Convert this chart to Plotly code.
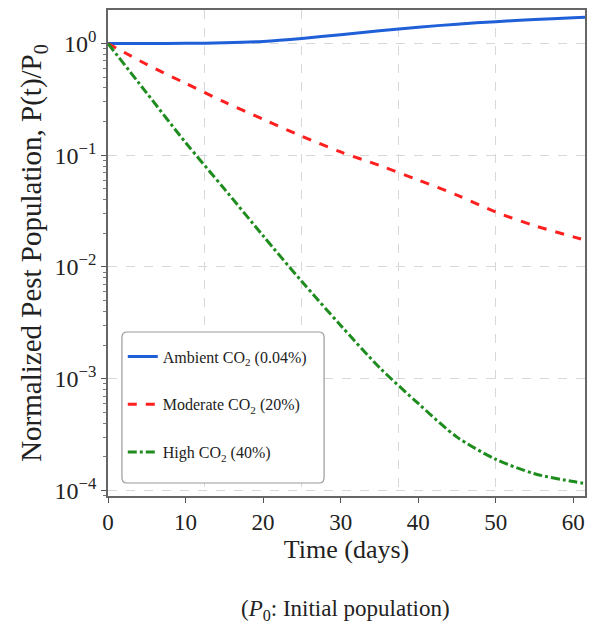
import plotly.graph_objects as go

days = [0, 5, 10, 15, 20, 25, 30, 35, 40, 45, 50, 55, 60, 62]
ambient = [1.0, 1.0, 1.003, 1.015, 1.045, 1.11, 1.2, 1.3, 1.4, 1.49, 1.57, 1.64, 1.70, 1.72]
moderate = [1.0, 0.65, 0.44, 0.30, 0.21, 0.148, 0.107, 0.081, 0.060, 0.044, 0.031, 0.0234, 0.0186, 0.0170]
high = [1.0, 0.36, 0.13, 0.050, 0.019, 0.0074, 0.0030, 0.00126, 6.0e-4, 3.0e-4, 1.9e-4, 1.41e-4, 1.2e-4, 1.14e-4]

series_names = ["Ambient CO<sub>2</sub> (0.04%)", "Moderate CO<sub>2</sub> (20%)", "High CO<sub>2</sub> (40%)"]
y_tickvals = [1, 0.1, 0.01, 0.001, 0.0001]
y_ticktext = ["10<sup>0</sup>", "10<sup>−1</sup>", "10<sup>−2</sup>", "10<sup>−3</sup>", "10<sup>−4</sup>"]
x_tickvals = [0, 10, 20, 30, 40, 50, 60]

FONT = "Liberation Serif"
fig = go.Figure()
styles = [("#1f5fd8", "solid"), ("#ff1f1f", "dash"), ("#1e8c1e", "dashdot")]
for name, ys, (col, dash), g in zip(series_names, [ambient, moderate, high], styles, ["a", "b", "c"]):
    fig.add_trace(go.Scatter(x=days, y=ys, mode="lines", name=name, legendgroup=g,
                             line=dict(color=col, width=3, dash=dash, shape="spline", smoothing=0.8)))

# invisible trace for the secondary grid axis
fig.add_trace(go.Scatter(x=[0], y=[1], xaxis="x2", mode="markers", marker=dict(opacity=0),
                         showlegend=False, hoverinfo="skip"))

# rounded legend frame (paper coordinates)
x0, x1, y0, y1 = 0.0292, 0.453, 0.0267, 0.3374
rx, ry = 0.011, 0.011
frame = (f"M {x0+rx},{y0} L {x1-rx},{y0} Q {x1},{y0} {x1},{y0+ry} L {x1},{y1-ry} "
         f"Q {x1},{y1} {x1-rx},{y1} L {x0+rx},{y1} Q {x0},{y1} {x0},{y1-ry} "
         f"L {x0},{y0+ry} Q {x0},{y0} {x0+rx},{y0} Z")

fig.update_layout(
    width=591, height=630,
    margin=dict(l=108, r=4, t=10, b=134),
    paper_bgcolor="white", plot_bgcolor="white",
    font=dict(family=FONT, size=20, color="#222"),
    xaxis=dict(range=[0, 61.5], tickvals=x_tickvals, showgrid=False, zeroline=False,
               ticks="outside", ticklen=5, tickcolor="#555", showline=True, linecolor="#666",
               linewidth=1.5, mirror=True, tickfont=dict(size=23),
               title=dict(text="Time (days)", font=dict(size=26), standoff=0)),
    xaxis2=dict(range=[0, 61.5], overlaying="x", tick0=0, dtick=12.5, showgrid=True,
                gridcolor="#d8d8d8", griddash="dash", gridwidth=1, showticklabels=False,
                ticks="", zeroline=False, showline=False, side="bottom"),
    yaxis=dict(type="log", range=[-4.05, 0.3], tickvals=y_tickvals, ticktext=y_ticktext,
               showgrid=True, gridcolor="#d8d8d8", griddash="dash", gridwidth=1,
               ticks="outside", ticklen=5, tickcolor="#555", showline=True, linecolor="#666",
               linewidth=1.5, mirror=True, zeroline=False, tickfont=dict(size=24),
               minor=dict(tickmode="linear", dtick="D1", ticks="outside", ticklen=3, tickcolor="#777", showgrid=False),
               title=dict(text="Normalized Pest Population, P(t)/P<sub>0</sub>", font=dict(size=29), standoff=4)),
    shapes=[dict(type="path", path=frame, xref="paper", yref="paper", layer="above",
                 fillcolor="white", line=dict(color="#9a9a9a", width=1.2))],
    legend=dict(x=0.031, y=0.322, xanchor="left", yanchor="top", bgcolor="rgba(0,0,0,0)",
                borderwidth=0, font=dict(size=16, family=FONT),
                tracegroupgap=24, traceorder="grouped"),
    annotations=[dict(text="(<i>P</i><sub>0</sub>: Initial population)", xref="paper", yref="paper",
                      x=0.497, y=-0.235, xanchor="center", yanchor="middle", showarrow=False,
                      font=dict(size=23, family=FONT))],
)
fig.write_html("out.html", config={"displayModeBar": False},
               post_script="document.documentElement.style.overflow='hidden';"
                           "document.body.style.margin='0';document.body.style.overflow='hidden';")
